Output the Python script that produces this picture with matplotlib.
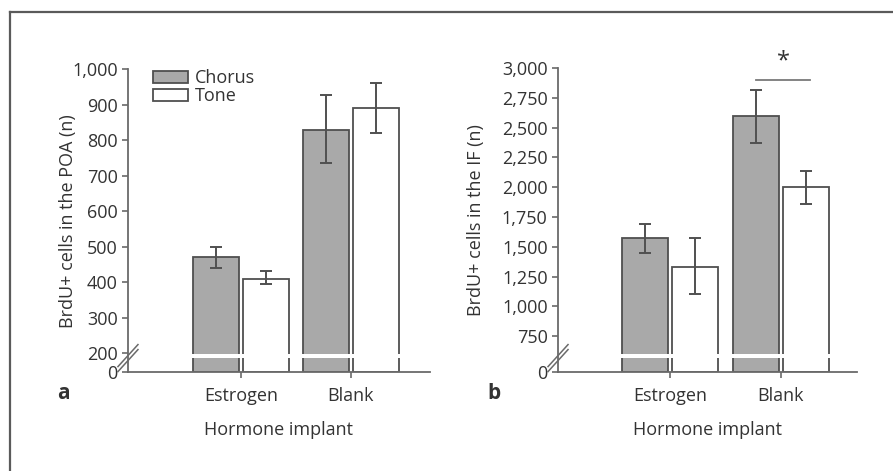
import numpy as np
import matplotlib
matplotlib.use('Agg')
import matplotlib.pyplot as plt
from matplotlib.lines import Line2D
from matplotlib.patches import Patch

# data
groups = ['Estrogen', 'Blank']
series = ['Chorus', 'Tone']

poa_chorus = [470, 830]
poa_chorus_lo = [440, 735]
poa_chorus_hi = [500, 927]
poa_tone = [410, 890]
poa_tone_lo = [395, 820]
poa_tone_hi = [430, 962]
poa_ticks = [0, 200, 300, 400, 500, 600, 700, 800, 900, 1000]

if_chorus = [1570, 2600]
if_chorus_lo = [1450, 2375]
if_chorus_hi = [1690, 2820]
if_tone = [1330, 2000]
if_tone_lo = [1100, 1860]
if_tone_hi = [1570, 2140]
if_ticks = [0, 750, 1000, 1250, 1500, 1750, 2000, 2250, 2500, 2750, 3000]

plt.rcParams['font.family'] = ['Open Sans', 'DejaVu Sans']
txt = '#333333'
axc = '#6a6a6a'
fill_c = '#a9a9a9'
edge_c = '#4f4f4f'
fs = 13


def make_break(brk, squash):
    # piecewise scale: squeeze the 0..brk stretch
    def fwd(y):
        y = np.asarray(y, dtype=float)
        return np.where(y < brk, y * squash, brk * squash + (y - brk))

    def inv(v):
        v = np.asarray(v, dtype=float)
        return np.where(v < brk * squash, v / squash, v - brk * squash + brk)
    return fwd, inv


def panel(ax, chorus, c_lo, c_hi, tone, t_lo, t_hi, ticks, brk, squash,
          gap, ylabel, ylab_x, letter, xlim):
    ax.set_yscale('function', functions=make_break(brk, squash))
    x = np.arange(1, len(groups) + 1)
    off = 0.225
    w = 0.42
    ax.bar(x - off, chorus, w, color=fill_c, edgecolor=edge_c, linewidth=1.3, zorder=2)
    ax.bar(x + off, tone, w, color='white', edgecolor=edge_c, linewidth=1.3, zorder=2)
    for xs, v, lo, hi in [(x - off, chorus, c_lo, c_hi), (x + off, tone, t_lo, t_hi)]:
        v = np.array(v)
        err = [v - np.array(lo), np.array(hi) - v]
        ax.errorbar(xs, v, yerr=err, fmt='none', ecolor='#505050', elinewidth=1.4,
                    capsize=4.5, capthick=1.4, zorder=4)
    ax.axhspan(gap[0], gap[1], xmin=0.02, xmax=1, color='white', zorder=3, linewidth=0)
    ax.set_ylim(0, ticks[-1])
    ax.set_xlim(*xlim)
    ax.set_yticks(ticks)
    ax.set_yticklabels(['{:,}'.format(t) for t in ticks])
    ax.set_xticks(x)
    ax.set_xticklabels(groups)
    for s in ['top', 'right']:
        ax.spines[s].set_visible(False)
    for s in ['left', 'bottom']:
        ax.spines[s].set_color(axc)
        ax.spines[s].set_linewidth(1.3)
    ax.tick_params(colors=axc, labelcolor=txt, labelsize=fs, length=4, width=1.2)
    ax.tick_params(axis='x', pad=7)
    ax.set_ylabel(ylabel, fontsize=fs, color=txt)
    ax.yaxis.set_label_coords(ylab_x, 0.5)
    ax.set_xlabel('Hormone implant', fontsize=fs, color=txt, labelpad=11)
    # break marks across the y axis
    h = ax.get_window_extent().height
    wd = ax.get_window_extent().width
    for dy in (-2.5, 2.5):
        yc = (14 + dy) / h
        ax.plot([-10 / wd, 10 / wd], [yc - 11 / h, yc + 11 / h], transform=ax.transAxes,
                color=axc, lw=1.1, clip_on=False, zorder=6)
    ax.text(-0.235, -0.07, letter, transform=ax.transAxes, fontsize=15,
            fontweight='bold', color=txt, va='center')


fig = plt.figure(figsize=(8.93, 4.71), dpi=100)
ax1 = fig.add_axes([0.1433, 0.210, 0.3382, 0.643])
ax2 = fig.add_axes([0.6249, 0.210, 0.3348, 0.6455])

panel(ax1, poa_chorus, poa_chorus_lo, poa_chorus_hi, poa_tone, poa_tone_lo, poa_tone_hi,
      poa_ticks, 200, 0.2675, (148, 190), 'BrdU+ cells in the POA (n)', -0.17, 'a',
      (-0.027, 2.718))
panel(ax2, if_chorus, if_chorus_lo, if_chorus_hi, if_tone, if_tone_lo, if_tone_hi,
      if_ticks, 750, 0.403, (292, 375), 'BrdU+ cells in the IF (n)', -0.245, 'b',
      (-0.009, 2.685))

handles = [Patch(facecolor=fill_c, edgecolor=edge_c, linewidth=1.3),
           Patch(facecolor='white', edgecolor=edge_c, linewidth=1.3)]
ax1.legend(handles, series, loc='upper left', bbox_to_anchor=(0.083, 1.0), frameon=False,
           fontsize=fs, handlelength=1.95, handleheight=0.6, labelspacing=0.0,
           handletextpad=0.35, borderpad=0, borderaxespad=0, labelcolor=txt)

# significance marker
ax2.plot([1.775, 2.261], [2900, 2900], color='#7a7a7a', lw=1.3, clip_on=False)
ax2.text(2.018, 3055, '*', ha='center', va='center', fontsize=17, color=txt)

# frame lines of the figure panel
fig.add_artist(Line2D([10 / 893, 1], [1 - 12 / 471, 1 - 12 / 471], color='#5a5a5a', lw=1.6))
fig.add_artist(Line2D([10 / 893, 10 / 893], [0, 1 - 12 / 471], color='#5a5a5a', lw=1.6))

fig.savefig('out.png', dpi=100)
